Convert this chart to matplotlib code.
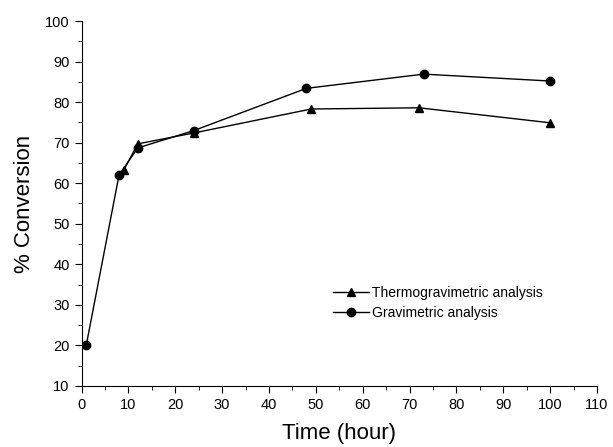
import matplotlib
matplotlib.use("Agg")
import matplotlib.pyplot as plt
from matplotlib.ticker import MultipleLocator

plt.rcParams['font.family'] = ['Liberation Sans', 'DejaVu Sans']

# данные
t_tga = [9, 12, 24, 49, 72, 100]
conv_tga = [63.2, 69.7, 72.4, 78.3, 78.6, 74.9]
t_grav = [1, 8, 12, 24, 48, 73, 100]
conv_grav = [20, 62, 68.7, 73, 83.4, 86.9, 85.2]

fig = plt.figure(figsize=(6.13, 4.47), dpi=100)
ax = fig.add_axes([0.133, 0.1365, 0.841, 0.8165])

ax.plot(t_tga, conv_tga, '-^', color='black', lw=1, ms=6,
        label='Thermogravimetric analysis')
ax.plot(t_grav, conv_grav, '-o', color='black', lw=1, ms=6,
        label='Gravimetric analysis')

ax.set_xlim(0, 110)
ax.set_ylim(10, 100)
ax.xaxis.set_major_locator(MultipleLocator(10))
ax.xaxis.set_minor_locator(MultipleLocator(5))
ax.yaxis.set_major_locator(MultipleLocator(10))
ax.yaxis.set_minor_locator(MultipleLocator(5))
ax.tick_params(which='both', direction='out', labelsize=10.5)
ax.tick_params(which='major', length=5)
ax.tick_params(which='minor', length=3)

ax.spines['top'].set_visible(False)
ax.spines['right'].set_visible(False)

ax.set_xlabel('Time (hour)', fontsize=16, labelpad=8)
ax.set_ylabel('% Conversion', fontsize=16, labelpad=7)

ax.legend(loc='center left', bbox_to_anchor=(0.488, 0.227), frameon=False,
          borderaxespad=0, borderpad=0,
          fontsize=10, handlelength=2.6, handletextpad=0.2, labelspacing=0.4)

fig.savefig('out.png', dpi=100)
